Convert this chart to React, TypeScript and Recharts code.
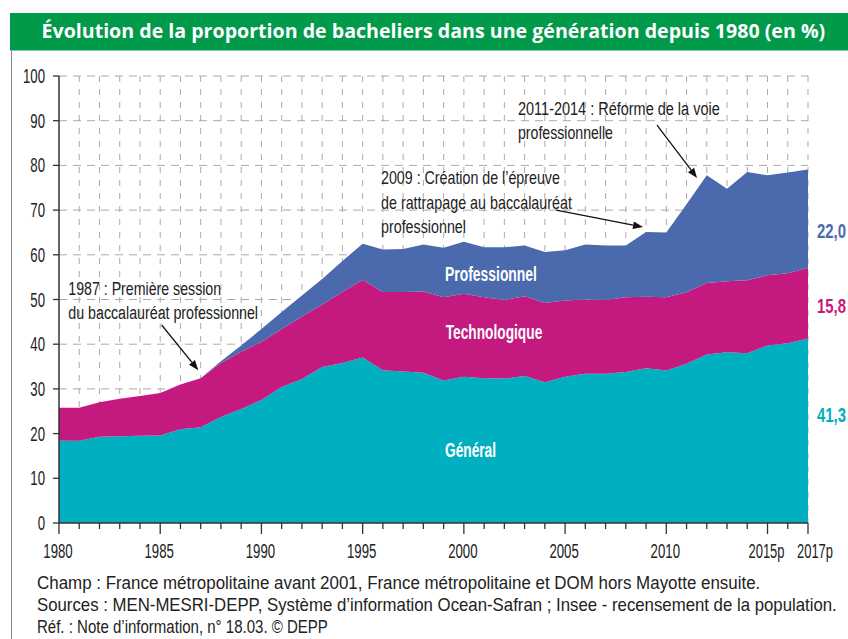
import {
  Area,
  AreaChart,
  CartesianGrid,
  ReferenceDot,
  ReferenceLine,
  XAxis,
  YAxis,
} from "recharts";

const years = [
  1980, 1981, 1982, 1983, 1984, 1985, 1986, 1987, 1988, 1989, 1990, 1991, 1992,
  1993, 1994, 1995, 1996, 1997, 1998, 1999, 2000, 2001, 2002, 2003, 2004, 2005,
  2006, 2007, 2008, 2009, 2010, 2011, 2012, 2013, 2014, 2015, 2016, 2017,
];

// parts of a generation holding each kind of bac (%)
const general = [
  18.4, 18.4, 19.3, 19.4, 19.5, 19.6, 21.0, 21.4, 23.7, 25.5, 27.5, 30.4, 32.2,
  34.9, 35.8, 37.0, 34.2, 33.9, 33.6, 31.9, 32.7, 32.4, 32.3, 32.9, 31.5, 32.7,
  33.4, 33.4, 33.8, 34.6, 34.1, 35.6, 37.7, 38.2, 38.0, 39.7, 40.2, 41.3,
];
const technologique = [
  7.4, 7.4, 7.7, 8.4, 8.9, 9.5, 10.0, 11.0, 12.1, 12.8, 13.0, 13.0, 14.0, 14.0,
  15.9, 17.4, 17.5, 17.8, 18.2, 18.6, 18.6, 18.1, 17.6, 17.8, 17.7, 17.1, 16.6,
  16.5, 16.7, 16.0, 16.4, 16.0, 16.0, 15.9, 16.3, 15.7, 15.7, 15.8,
];
const professionnel = [
  0, 0, 0, 0, 0, 0, 0, 0, 0.4, 1.4, 2.9, 3.8, 4.7, 5.7, 6.9, 8.1, 9.5, 9.6, 10.5,
  11.1, 11.6, 11.2, 11.8, 11.4, 11.4, 11.2, 12.3, 12.2, 11.6, 14.5, 14.5, 19.7,
  24.1, 20.7, 24.2, 22.4, 22.5, 22.0,
];

const xLabels: Record<number, string> = {
  1980: "1980",
  1985: "1985",
  1990: "1990",
  1995: "1995",
  2000: "2000",
  2005: "2005",
  2010: "2010",
  2015: "2015p",
  2017: "2017p",
};
const yTicks = [0, 10, 20, 30, 40, 50, 60, 70, 80, 90, 100];
const gridYears = years.slice(1);

const title =
  "Évolution de la proportion de bacheliers dans une génération depuis 1980 (en %)";
const footer = [
  "Champ : France métropolitaine avant 2001, France métropolitaine et DOM hors Mayotte ensuite.",
  "Sources : MEN-MESRI-DEPP, Système d’information Ocean-Safran ; Insee - recensement de la population.",
  "Réf. : Note d’information, n° 18.03. © DEPP",
];
const footerWidths = [724, 800, 291];

const BLUE = "#4a6aad";
const MAGENTA = "#c4197f";
const CYAN = "#00b0c0";
const GRID = "rgba(165,165,165,0.95)";
const INK = "#222";
const NARROW = '"Liberation Sans", Arial, sans-serif';

const data = years.map((year, i) => ({
  year,
  general: general[i],
  technologique: technologique[i],
  professionnel: professionnel[i],
}));

const fmt = (v: number) => v.toFixed(1).replace(".", ",");

let ctx: CanvasRenderingContext2D | null = null;
const measure = (text: string, size: number, weight: number, family: string) => {
  if (!ctx) ctx = document.createElement("canvas").getContext("2d");
  if (!ctx) return text.length * size * 0.5;
  ctx.font = `${weight} ${size}px ${family}`;
  return ctx.measureText(text).width;
};

// condensed look: a plain sans squeezed horizontally to the width measured on the reference
const Narrow = ({
  x,
  y,
  w,
  size = 19,
  weight = 400,
  fill = INK,
  anchor = "start",
  family = NARROW,
  children,
}: any) => {
  const text = String(children);
  const sx = w / measure(text, size, weight, family);
  return (
    <text
      transform={`translate(${x},${y}) scale(${sx},1)`}
      x={0}
      y={0}
      textAnchor={anchor}
      fontFamily={family}
      fontSize={size}
      fontWeight={weight}
      fill={fill}
    >
      {text}
    </text>
  );
};

const XTick = (props: any) => {
  const { x, y, payload } = props;
  const label = xLabels[payload.value];
  const w = label && label.length > 4 ? 36 : 29.4;
  return (
    <g>
      <line x1={x} x2={x} y1={y} y2={y + (label ? 11 : 6)} stroke="#333" strokeWidth={1.3} />
      {label && (
        <Narrow x={x + (payload.value === 2017 ? 7 : -1)} y={y + 35} w={w} size={19.5} anchor="middle">
          {label}
        </Narrow>
      )}
    </g>
  );
};

const YTick = (props: any) => {
  const { x, y, payload } = props;
  const s = String(payload.value);
  return (
    <Narrow x={x} y={y + 7} w={s.length * 7.35} size={19.5} anchor="end">
      {s}
    </Narrow>
  );
};

// annotation arrow, drawn as a segment in data space
const Arrow = (props: any) => {
  const { x1, y1, x2, y2 } = props;
  const a = Math.atan2(y2 - y1, x2 - x1);
  const len = 10;
  const w = 3.8;
  const bx = x2 - len * Math.cos(a);
  const by = y2 - len * Math.sin(a);
  const px = -Math.sin(a) * w;
  const py = Math.cos(a) * w;
  return (
    <g>
      <line x1={x1} y1={y1} x2={bx} y2={by} stroke="#111" strokeWidth={1.3} />
      <polygon points={`${x2},${y2} ${bx + px},${by + py} ${bx - px},${by - py}`} fill="#111" />
    </g>
  );
};

const areaLabel = (text: string, w: number) => (p: any) => (
  <Narrow x={p.cx} y={p.cy} w={w} size={20.5} weight={700} fill="#fff">
    {text}
  </Narrow>
);

export default function App() {
  const last = years.length - 1;
  return (
    <div style={{ position: "absolute", left: 0, top: 0, width: 848, height: 639, background: "#fff", overflow: "hidden" }}>
      <div style={{ position: "absolute", left: 0, top: 0 }}>
        <AreaChart
          width={848}
          height={639}
          data={data}
          margin={{ top: 76, right: 40, left: 0, bottom: 86 }}
        >
          <XAxis
            type="number"
            dataKey="year"
            domain={[1980, 2017]}
            ticks={years}
            interval={0}
            height={30}
            tickSize={0}
            tickMargin={0}
            tick={<XTick />}
            axisLine={{ stroke: "#333", strokeWidth: 1.5 }}
            tickLine={false}
          />
          <YAxis
            type="number"
            domain={[0, 100]}
            ticks={yTicks}
            interval={0}
            width={59}
            tickSize={6}
            tickMargin={8}
            axisLine={{ stroke: "#333", strokeWidth: 1.5 }}
            tickLine={{ stroke: "#333", strokeWidth: 1.3 }}
            tick={<YTick />}
          />
          <Area
            type="linear"
            dataKey="general"
            stackId="bac"
            stroke="none"
            fill={CYAN}
            fillOpacity={1}
            isAnimationActive={false}
          />
          <Area
            type="linear"
            dataKey="technologique"
            stackId="bac"
            stroke="none"
            fill={MAGENTA}
            fillOpacity={1}
            isAnimationActive={false}
          />
          <Area
            type="linear"
            dataKey="professionnel"
            stackId="bac"
            stroke="none"
            fill={BLUE}
            fillOpacity={1}
            isAnimationActive={false}
          />
          <CartesianGrid
            horizontal
            vertical={false}
            horizontalValues={yTicks.slice(1)}
            stroke={GRID}
            strokeDasharray="8 6"
          />
          <CartesianGrid
            horizontal={false}
            vertical
            verticalValues={gridYears}
            stroke={GRID}
            strokeDasharray="6 7"
          />
          <ReferenceDot x={1999.07} y={54.2} r={0} shape={areaLabel("Professionnel", 92)} />
          <ReferenceDot x={1999.1} y={41.1} r={0} shape={areaLabel("Technologique", 96.7)} />
          <ReferenceDot x={1999.07} y={14.8} r={0} shape={areaLabel("Général", 51)} />
          <ReferenceLine
            segment={[{ x: 1985.07, y: 44.3 }, { x: 1986.88, y: 34.2 }]}
            shape={<Arrow />}
          />
          <ReferenceLine
            segment={[{ x: 2004.56, y: 70.0 }, { x: 2008.85, y: 66.2 }]}
            shape={<Arrow />}
          />
          <ReferenceLine
            segment={[{ x: 2009.54, y: 89.0 }, { x: 2011.52, y: 77.2 }]}
            shape={<Arrow />}
          />
        </AreaChart>
      </div>

      <svg width={848} height={639} style={{ position: "absolute", left: 0, top: 0, pointerEvents: "none" }}>
        <rect x={10} y={13} width={838} height={37.5} fill="#009a4a" />
        <line x1={11.5} x2={11.5} y1={50.5} y2={639} stroke="#8a8a8a" strokeWidth={1} />
        <Narrow x={41.5} y={37.5} w={784} size={19.5} weight={700} fill="#fff" family='"Open Sans", sans-serif'>
          {title}
        </Narrow>

        <Narrow x={68.3} y={295} w={153}>1987 : Première session</Narrow>
        <Narrow x={68.3} y={319} w={190}>du baccalauréat professionnel</Narrow>

        <Narrow x={381} y={184} w={179}>2009 : Création de l’épreuve</Narrow>
        <Narrow x={381} y={208.5} w={191}>de rattrapage au baccalauréat</Narrow>
        <Narrow x={381} y={233} w={85}>professionnel</Narrow>

        <Narrow x={518} y={115} w={202}>2011-2014 : Réforme de la voie</Narrow>
        <Narrow x={518} y={139} w={95}>professionnelle</Narrow>

        <Narrow x={817} y={238} w={29} size={20} weight={700} fill={BLUE}>
          {fmt(professionnel[last])}
        </Narrow>
        <Narrow x={817} y={313} w={29} size={20} weight={700} fill={MAGENTA}>
          {fmt(technologique[last])}
        </Narrow>
        <Narrow x={817} y={422} w={29} size={20} weight={700} fill={CYAN}>
          {fmt(general[last])}
        </Narrow>

        {footer.map((line, i) => (
          <Narrow key={line} x={37} y={589 + i * 22} w={footerWidths[i]} size={18.5}>
            {line}
          </Narrow>
        ))}
      </svg>
    </div>
  );
}
